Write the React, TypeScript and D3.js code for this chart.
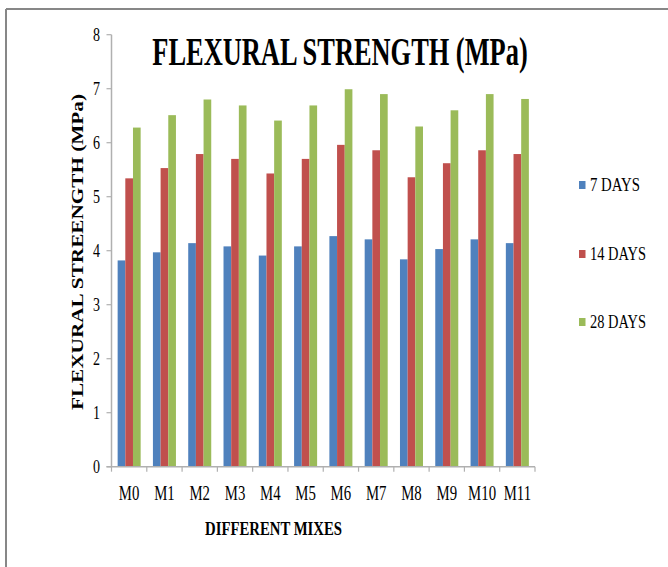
import React from "react";
import * as d3 from "d3";

const categories = ["M0", "M1", "M2", "M3", "M4", "M5", "M6", "M7", "M8", "M9", "M10", "M11"];
const seriesNames = ["7 DAYS", "14 DAYS", "28 DAYS"];
const days7 = [3.82, 3.97, 4.14, 4.08, 3.91, 4.08, 4.27, 4.21, 3.84, 4.03, 4.21, 4.14];
const days14 = [5.34, 5.53, 5.79, 5.70, 5.43, 5.70, 5.96, 5.86, 5.36, 5.62, 5.86, 5.79];
const days28 = [6.28, 6.51, 6.80, 6.69, 6.41, 6.69, 6.99, 6.90, 6.30, 6.60, 6.90, 6.81];
const yTicks = [0, 1, 2, 3, 4, 5, 6, 7, 8];
const colors = ["#4F81BD", "#C0504D", "#9BBB59"];

const W = 668;
const H = 567;
const FONT = "'Liberation Serif', 'Times New Roman', serif";

export default function App() {
  const seriesData = [days7, days14, days28];
  const x0 = 111.5;
  const x1 = 535;
  const y = d3.scaleLinear().domain([0, 8]).range([466.7, 34.7]);
  const x = d3.scaleBand<string>().domain(categories).range([x0, x1]).padding(0);
  const xs = d3
    .scaleBand<string>()
    .domain(seriesNames)
    .range([0, x.bandwidth()])
    .paddingInner(0)
    .paddingOuter(0.8);

  const axisColor = "#b0b0b0";
  const legendY = [185, 254, 322];

  return (
    <svg
      width={W}
      height={H}
      style={{ position: "absolute", left: 0, top: 0, background: "#fff" }}
      fontFamily={FONT}
    >
      <rect x={0} y={0} width={W} height={H} fill="#fff" />
      {/* outer border (top & left visible) */}
      <line x1={6} y1={9} x2={W} y2={9} stroke="#878787" strokeWidth={2} />
      <line x1={6} y1={9} x2={6} y2={H} stroke="#878787" strokeWidth={2} />

      {/* title */}
      <text
        transform="translate(340,65) scale(0.66,1)"
        x={0}
        y={0}
        textAnchor="middle"
        fontSize={40}
        fontWeight="bold"
        fill="#000"
      >
        FLEXURAL STRENGTH (MPa)
      </text>

      {/* bars */}
      {categories.map((c, i) => (
        <g key={c}>
          {seriesNames.map((s, j) => (
            <rect
              key={s}
              x={(x(c) as number) + (xs(s) as number)}
              y={y(seriesData[j][i])}
              width={xs.bandwidth()}
              height={y(0) - y(seriesData[j][i])}
              fill={colors[j]}
            />
          ))}
        </g>
      ))}

      {/* y axis */}
      <line x1={x0} y1={y(8)} x2={x0} y2={y(0)} stroke={axisColor} strokeWidth={1.5} />
      {yTicks.map((t) => (
        <g key={t}>
          <line x1={x0 - 5} y1={y(t)} x2={x0} y2={y(t)} stroke={axisColor} strokeWidth={1.2} />
          <text
            x={100}
            y={y(t)}
            dy="0.35em"
            textAnchor="end"
            fontSize={18}
            fill="#000"
            transform={`translate(${100 * 0.22},0) scale(0.78,1)`}
          >
            {t}
          </text>
        </g>
      ))}

      {/* x axis */}
      <line x1={x0 - 5} y1={y(0)} x2={x1} y2={y(0)} stroke={axisColor} strokeWidth={1.5} />
      {categories.map((c) => (
        <line
          key={"t" + c}
          x1={x(c) as number}
          y1={y(0)}
          x2={x(c) as number}
          y2={y(0) + 5}
          stroke={axisColor}
          strokeWidth={1.2}
        />
      ))}
      <line x1={x1} y1={y(0)} x2={x1} y2={y(0) + 5} stroke={axisColor} strokeWidth={1.2} />
      {categories.map((c) => {
        const cx = (x(c) as number) + x.bandwidth() / 2;
        return (
          <text
            key={"l" + c}
            x={cx}
            y={500}
            textAnchor="middle"
            fontSize={20}
            fill="#000"
            transform={`translate(${cx * 0.26},0) scale(0.74,1)`}
          >
            {c}
          </text>
        );
      })}

      {/* axis titles */}
      <text
        x={205}
        y={535}
        fontSize={19}
        fontWeight="bold"
        textLength={137}
        lengthAdjust="spacingAndGlyphs"
        fill="#000"
      >
        DIFFERENT MIXES
      </text>
      <text
        transform="translate(83,410) rotate(-90)"
        x={0}
        y={0}
        fontSize={17}
        fontWeight="bold"
        textLength={316}
        lengthAdjust="spacingAndGlyphs"
        fill="#000"
      >
        FLEXURAL STREENGTH  (MPa)
      </text>

      {/* legend */}
      {seriesNames.map((s, j) => (
        <g key={"lg" + s}>
          <rect x={579} y={legendY[j] - 4} width={6.5} height={8} fill={colors[j]} />
          <text
            x={590}
            y={legendY[j] + 6}
            fontSize={19}
            textLength={j === 0 ? 50 : 56}
            lengthAdjust="spacingAndGlyphs"
            fill="#000"
          >
            {s}
          </text>
        </g>
      ))}
    </svg>
  );
}
